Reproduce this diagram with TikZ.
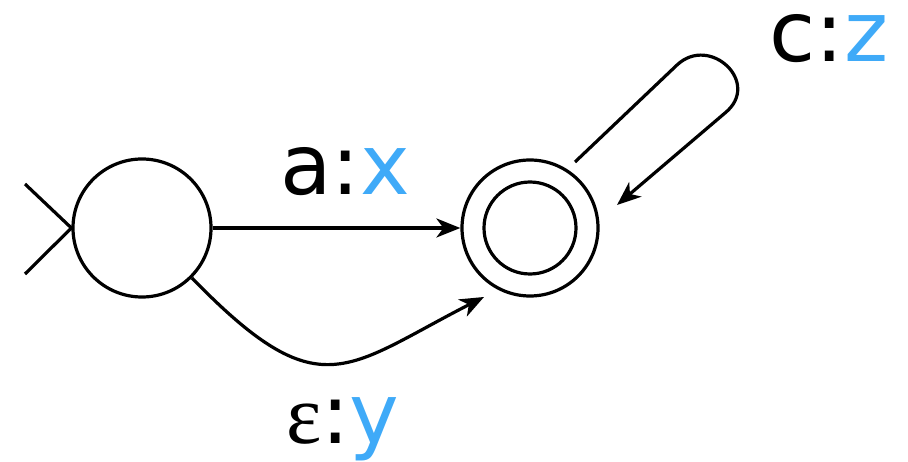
\documentclass[tikz,border=0pt]{standalone}
\usepackage{fontspec}
\setmainfont{DejaVu Sans}
\newfontfamily\epsfont{Liberation Serif}
\usetikzlibrary{arrows.meta}
\definecolor{blu}{HTML}{3FAAF8}
\begin{document}
\begin{tikzpicture}[x=1pt,y=-1pt,
  line width=3.2pt,
  st/.style={circle,draw,inner sep=0pt,minimum size=#1},
  lbl/.style={anchor=base,font=\fontsize{84}{100}\selectfont},
  arr/.style={-{Stealth[length=24pt,width=19pt,inset=7pt]}}]
\useasboundingbox (0,0) rectangle (908,462);
\node[st=138] (q0) at (142,228) {};
\node[st=136] (q1) at (530,228) {};
\node[st=92] (q1in) at (530,228) {};
\coordinate (s1) at (25,184);
\coordinate (s2) at (25,274);
\draw (s1) -- (q0.west) -- (s2);
\draw[arr] (q0.east) -- (q1.west);
\coordinate (e2) at (484,297);
\draw[arr] (q0.-45) .. controls (320,410) and (345,368) .. (e2);
\coordinate (l1) at (575,162);
\coordinate (l2) at (617,205);
\coordinate (c1) at (677,65);
\coordinate (c2) at (725,113);
\draw[arr] (l1) -- (c1) .. controls (710,34) and (762,83) .. (c2) -- (l2);
\node[lbl] (la) at (345,195) {a:\textcolor{blu}{x}};
\node[lbl] (lb) at (343,443) {{\epsfont ε}:\textcolor{blu}{y}};
\node[lbl] (lc) at (829,62) {c:\textcolor{blu}{z}};
\end{tikzpicture}
\end{document}
